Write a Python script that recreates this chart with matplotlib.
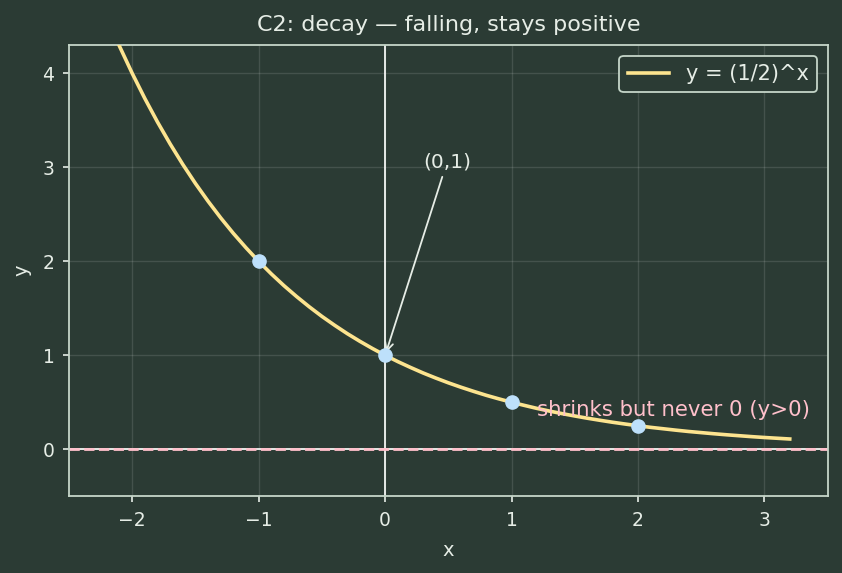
import numpy as np
import matplotlib
matplotlib.use("Agg")
import matplotlib.pyplot as plt

# --- data ---
# curve y = (1/2)^x sampled every 0.1 from -2.5 to 3.2
curve_x = np.linspace(-2.5, 3.2, 58)
curve_y = [5.657, 5.278, 4.925, 4.595, 4.287, 4.000, 3.732, 3.482, 3.249, 3.031,
           2.828, 2.639, 2.462, 2.297, 2.144, 2.000, 1.866, 1.741, 1.625, 1.516,
           1.414, 1.320, 1.231, 1.149, 1.072, 1.000, 0.933, 0.871, 0.812, 0.758,
           0.707, 0.660, 0.616, 0.574, 0.536, 0.500, 0.467, 0.435, 0.406, 0.379,
           0.354, 0.330, 0.308, 0.287, 0.268, 0.250, 0.233, 0.218, 0.203, 0.189,
           0.177, 0.165, 0.154, 0.144, 0.134, 0.125, 0.117, 0.109]
pts_x = [-1, 0, 1, 2]
pts_y = [2, 1, 0.5, 0.25]

BG = "#2b3b34"
FG = "#e6ede6"
SPINE = "#c5d6c9"
CURVE = "#fde48f"
DOT = "#bde0fb"
PINK = "#ffc0cb"

fig, ax = plt.subplots(figsize=(8.42, 5.73), dpi=100)
fig.patch.set_facecolor(BG)
ax.set_facecolor(BG)

ax.grid(True, color="#ffffff", alpha=0.12, linewidth=1.0)
ax.axvline(0, color="#f4f6f4", linewidth=1.3, zorder=2)
ax.axhline(0, color="#f4f6f4", linewidth=1.3, zorder=2)
ax.axhline(0, color=PINK, linewidth=2.0, linestyle="--", zorder=2.5)

ax.plot(curve_x, curve_y, color=CURVE, linewidth=2.6, label="y = (1/2)^x", zorder=3)
ax.plot(pts_x, pts_y, "o", color=DOT, markersize=9.5, zorder=4)

ax.annotate("(0,1)", xy=(0, 1), xytext=(0.3, 3.0), color=FG, fontsize=14.5,
            arrowprops=dict(arrowstyle="->", color=FG, linewidth=1.3))
ax.text(1.2, 0.35, "shrinks but never 0 (y>0)", color=PINK, fontsize=15.3, zorder=5)

ax.set_xlim(-2.5, 3.5)
ax.set_ylim(-0.5, 4.3)
ax.set_title("C2: decay — falling, stays positive", color=FG, fontsize=16, pad=10)
ax.set_xlabel("x", color=FG, fontsize=14, labelpad=8)
ax.set_ylabel("y", color=FG, fontsize=14, labelpad=8)
ax.tick_params(colors=FG, labelsize=13.5, length=4.5, width=1.2, pad=6)
for s in ax.spines.values():
    s.set_color(SPINE)
    s.set_linewidth(1.3)

leg = ax.legend(loc="upper right", fontsize=15, facecolor=BG, edgecolor=SPINE, framealpha=1)
leg.get_frame().set_linewidth(1.3)
for t in leg.get_texts():
    t.set_color(FG)

plt.subplots_adjust(left=0.082, right=0.983, top=0.921, bottom=0.134)
plt.savefig("out.png", dpi=100, facecolor=BG)
plt.close()
